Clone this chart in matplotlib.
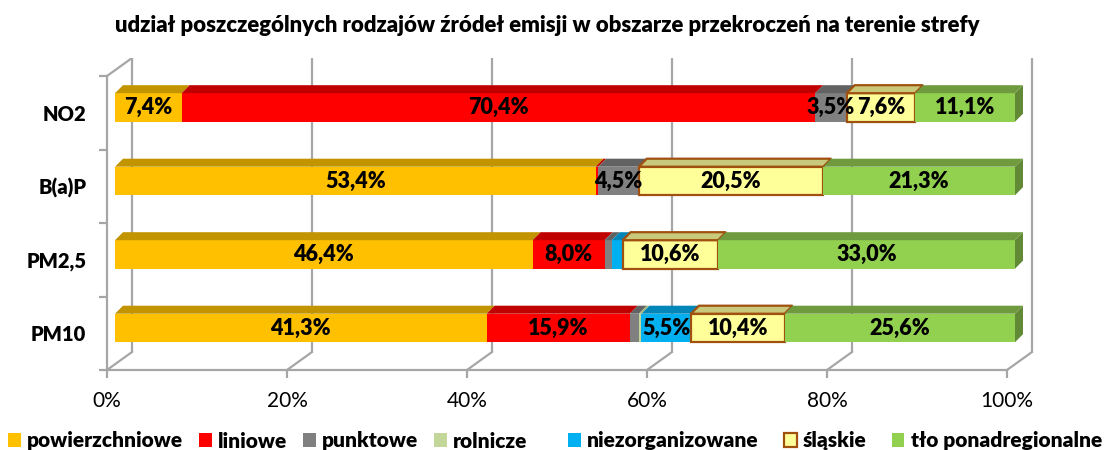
import matplotlib
matplotlib.use("Agg")
import matplotlib.pyplot as plt
from matplotlib.patches import Polygon, Patch

plt.rcParams["font.family"] = ["Lato", "DejaVu Sans"]

# ---- data -------------------------------------------------------------
title = "udział poszczególnych rodzajów źródeł emisji w obszarze przekroczeń na terenie strefy"
categories = ["PM10", "PM2,5", "B(a)P", "NO2"]          # bottom -> top
sources = ["powierzchniowe", "liniowe", "punktowe", "rolnicze",
           "niezorganizowane", "śląskie", "tło ponadregionalne"]
powierzchniowe = [41.3, 46.4, 53.4, 7.4]
liniowe = [15.9, 8.0, 0.3, 70.4]
punktowe = [1.0, 0.8, 4.5, 3.5]
rolnicze = [0.3, 0.0, 0.0, 0.0]
niezorganizowane = [5.5, 1.2, 0.0, 0.0]
slaskie = [10.4, 10.6, 20.5, 7.6]
tlo = [25.6, 33.0, 21.3, 11.1]
x_ticks = [0, 20, 40, 60, 80, 100]
x_tick_labels = ["0%", "20%", "40%", "60%", "80%", "100%"]

series = [powierzchniowe, liniowe, punktowe, rolnicze, niezorganizowane, slaskie, tlo]

# ---- styles -----------------------------------------------------------
front_colors = ["#FFC000", "#FF0000", "#808080", "#C4D79B", "#00B0F0", "#FFFF99", "#92D050"]
top_colors = ["#C29400", "#C00000", "#626262", "#A3B67E", "#0086B8", "#C9C97C", "#6F9A3E"]
side_color = "#628A36"
edge_colors = [None, None, None, None, None, "#A0500F", None]
grid_color = "#A6A6A6"
BOLD = "heavy"

W, H = 1104, 450
fig = plt.figure(figsize=(W / 100, H / 100), dpi=100)

PX_PER_PCT = 9.0
PX_PER_CAT = 73.5
xlim = (-1.5, 103.5)
ylim = (-0.75, 3.75)
left_px = 115 - (0 - xlim[0]) * PX_PER_PCT
right_px = 115 + xlim[1] * PX_PER_PCT
bottom_px = 370 + (-0.5 - ylim[0]) * PX_PER_CAT
top_px = 370 - (ylim[1] + 0.5) * PX_PER_CAT
ax = fig.add_axes([left_px / W, 1 - bottom_px / H,
                   (right_px - left_px) / W, (bottom_px - top_px) / H])
ax.set_xlim(*xlim)
ax.set_ylim(*ylim)
ax.patch.set_visible(False)

# depth offsets (in data units)
FRONT_DX = -8 / PX_PER_PCT
BACK_DX = 17 / PX_PER_PCT
BACK_DY = 18 / PX_PER_CAT
BAR_DY = 5.3 / PX_PER_CAT
DEPTH_X = 8 / PX_PER_PCT
DEPTH_Y = 8 / PX_PER_CAT
BAR_H = 28.5 / PX_PER_CAT

y_lo, y_hi = -0.5, len(categories) - 0.5

# ---- walls, floor and gridlines ---------------------------------------
for t in x_ticks:
    ax.plot([t + BACK_DX, t + BACK_DX], [y_lo + BACK_DY, y_hi + BACK_DY],
            color=grid_color, lw=1.6, zorder=1, solid_capstyle="butt")
    ax.plot([t + FRONT_DX, t + BACK_DX], [y_lo, y_lo + BACK_DY],
            color=grid_color, lw=1.6, zorder=1)
ax.plot([FRONT_DX, BACK_DX], [y_hi, y_hi + BACK_DY], color=grid_color, lw=1.6, zorder=1)

for name in ["top", "right"]:
    ax.spines[name].set_visible(False)
ax.spines["bottom"].set_position(("data", y_lo))
ax.spines["bottom"].set_bounds(FRONT_DX + x_ticks[0], FRONT_DX + x_ticks[-1])
ax.spines["left"].set_position(("data", FRONT_DX))
ax.spines["left"].set_bounds(y_lo, y_hi)
for name in ["bottom", "left"]:
    ax.spines[name].set_color(grid_color)
    ax.spines[name].set_linewidth(1.6)

ax.set_xticks([t + FRONT_DX for t in x_ticks], x_tick_labels)
ax.tick_params(axis="x", direction="out", length=6, width=1.6, color=grid_color,
               labelsize=15, pad=9, labelcolor="black")
ax.set_yticks([y_lo + k for k in range(len(categories) + 1)], [""] * (len(categories) + 1))
ax.tick_params(axis="y", which="major", direction="out", length=5.5, width=1.6, color=grid_color)
ax.set_yticks(range(len(categories)), categories, minor=True, fontweight=BOLD, fontsize=14.5)
ax.tick_params(axis="y", which="minor", length=0, pad=15)

# ---- 3D stacked bars --------------------------------------------------
n = len(categories)
for i in range(n):
    yc = i + BAR_DY
    yb, yt = yc - BAR_H / 2, yc + BAR_H / 2
    left = 0.0
    last = max(k for k in range(len(series)) if series[k][i] > 0)
    for k, vals in enumerate(series):
        v = vals[i]
        if v <= 0:
            continue
        x0, x1 = left, left + v
        ec = edge_colors[k]
        lw = 1.6 if ec else 0
        ax.barh(yc, v, left=x0, height=BAR_H, color=front_colors[k],
                edgecolor=ec if ec else "none", linewidth=lw, zorder=5 + k * 0.1)
        top = Polygon([(x0, yt), (x1, yt), (x1 + DEPTH_X, yt + DEPTH_Y), (x0 + DEPTH_X, yt + DEPTH_Y)],
                      closed=True, facecolor=top_colors[k],
                      edgecolor=ec if ec else "none", linewidth=lw, zorder=5 + k * 0.1)
        ax.add_patch(top)
        if k == last:
            side = Polygon([(x1, yb), (x1, yt), (x1 + DEPTH_X, yt + DEPTH_Y), (x1 + DEPTH_X, yb + DEPTH_Y)],
                           closed=True, facecolor=side_color, edgecolor="none", zorder=5)
            ax.add_patch(side)
        if v >= 3:
            ax.text((x0 + x1) / 2, yc, f"{v:.1f}".replace(".", ",") + "%",
                    ha="center", va="center", fontsize=15.5, fontweight=BOLD, zorder=10)
        left = x1

# ---- title and legend -------------------------------------------------
fig.text(547 / W, 1 - 25 / H, title, ha="center", va="center", fontsize=15.9, fontweight=BOLD)

handles = [Patch(facecolor=front_colors[k],
                 edgecolor=edge_colors[k] if edge_colors[k] else front_colors[k],
                 linewidth=1.6 if edge_colors[k] else 0, label=sources[k])
           for k in range(len(sources))]
leg_kw = dict(frameon=False, handlelength=0.62, handleheight=0.62,
              handletextpad=0.3, borderpad=0, borderaxespad=0,
              prop={"weight": BOLD, "size": 15})
leg1 = fig.legend(handles=handles[:4], loc="center left", ncol=4, columnspacing=0.75,
                  bbox_to_anchor=(8 / W, 1 - 441 / H), **leg_kw)
leg2 = fig.legend(handles=handles[4:], loc="center right", ncol=3, columnspacing=1.2,
                  bbox_to_anchor=(1102 / W, 1 - 441 / H), **leg_kw)

fig.savefig("out.png", dpi=100)
